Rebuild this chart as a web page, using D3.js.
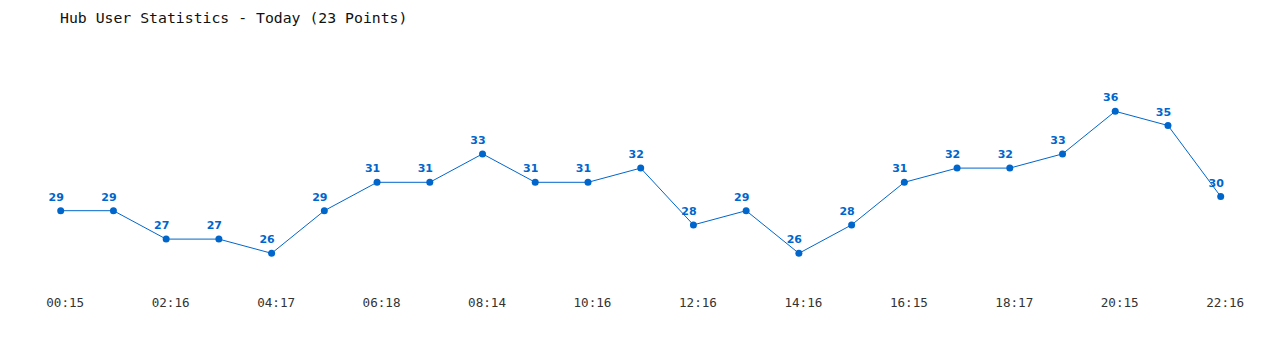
<!DOCTYPE html>
<html>
<head>
<meta charset="utf-8">
<script src="https://cdn.jsdelivr.net/npm/d3@7"></script>
<style>
html,body{margin:0;padding:0;background:#fff;}
svg{display:block;}
</style>
</head>
<body>
<svg id="chart" width="1280" height="350"></svg>
<script>
const times = ["00:15","01:16","02:16","03:16","04:17","05:17","06:18","07:14","08:14","09:15","10:16","11:16","12:16","13:16","14:16","15:16","16:15","17:16","18:17","19:15","20:15","21:16","22:16"];
const users = [29,29,27,27,26,29,31,31,33,31,31,32,28,29,26,28,31,32,32,33,36,35,30];
const title = "Hub User Statistics - Today (23 Points)";

const svg = d3.select("#chart");
const color = "#0066cc";

const x = d3.scalePoint().domain(times).range([60.7, 1220.7]);
const y = d3.scaleLinear().domain([26, 36]).range([253.3, 111.3]);

svg.append("text")
  .attr("x", 60).attr("y", 23)
  .attr("font-family", "DejaVu Sans Mono, monospace")
  .attr("font-size", 14.8)
  .attr("fill", "#111")
  .text(title);

const line = d3.line().x((d,i)=>x(times[i])).y(d=>y(d));
svg.append("path")
  .datum(users)
  .attr("d", line)
  .attr("fill", "none")
  .attr("stroke", color)
  .attr("stroke-width", 1);

svg.selectAll("circle.pt").data(users).enter().append("circle")
  .attr("class","pt")
  .attr("cx", (d,i)=>x(times[i]))
  .attr("cy", d=>y(d))
  .attr("r", 3.5)
  .attr("fill", color);

svg.selectAll("text.val").data(users).enter().append("text")
  .attr("class","val")
  .attr("x", (d,i)=>x(times[i]) - 4.5)
  .attr("y", d=>y(d) - 10)
  .attr("text-anchor","middle")
  .attr("font-family","DejaVu Sans, Verdana, sans-serif")
  .attr("font-weight","bold")
  .attr("font-size", 11)
  .attr("fill", color)
  .text(d=>d);

const xAxis = d3.axisBottom(x).tickValues(times.filter((t,i)=>i%2===0)).tickSize(0).tickPadding(0);
const g = svg.append("g").attr("transform","translate(4,298.5)").call(xAxis);
g.select(".domain").remove();
g.selectAll("text")
  .attr("font-family","DejaVu Sans Mono, monospace")
  .attr("font-size", 12.6)
  .attr("fill", "#333");
</script>
</body>
</html>
